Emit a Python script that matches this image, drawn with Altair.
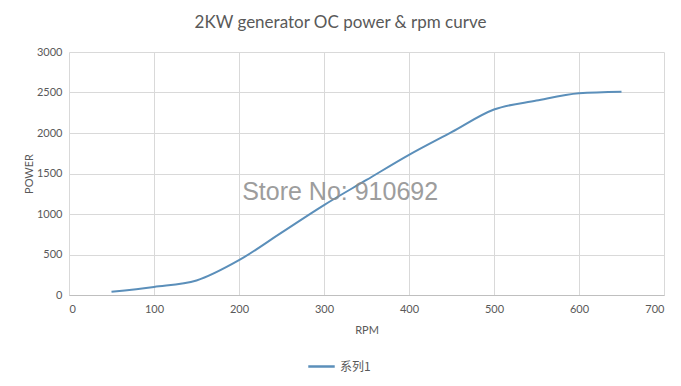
import altair as alt
import pandas as pd

rpm = [50, 100, 150, 200, 250, 300, 350, 400, 450, 500, 550, 600, 650]
power = [40, 100, 180, 430, 770, 1110, 1420, 1730, 2010, 2290, 2400, 2490, 2510]
series = ["系列1"] * len(rpm)

title_text = "2KW generator OC power & rpm curve"
watermark = ["Store No: 910692"]
wm_x = [319]
wm_y = [1270]

df = pd.DataFrame({"RPM": rpm, "POWER": power, "series": series})
wm = pd.DataFrame({"t": watermark, "x": wm_x, "y": wm_y})

grey = "#595959"
font = "Lato"

x_scale = alt.Scale(domain=[0, 700], nice=False)
y_scale = alt.Scale(domain=[0, 3000], nice=False)

line = alt.Chart(df).mark_line(interpolate="monotone", strokeWidth=2).encode(
    x=alt.X("RPM:Q", scale=x_scale,
            axis=alt.Axis(title="RPM", values=[0, 100, 200, 300, 400, 500, 600, 700],
                          format="d",
                          grid=True, gridColor="#d9d9d9", domainColor="#bfbfbf",
                          ticks=False, labelPadding=8, labelFontSize=11, labelColor=grey,
                          labelFont=font, titleFont=font, titleFontSize=11,
                          titleFontWeight="normal", titleColor=grey, titlePadding=10)),
    y=alt.Y("POWER:Q", scale=y_scale,
            axis=alt.Axis(title="POWER", values=[0, 500, 1000, 1500, 2000, 2500, 3000],
                          format="d",
                          grid=True, gridColor="#d9d9d9", domain=False,
                          ticks=False, labelPadding=7, labelFontSize=11, labelColor=grey,
                          labelFont=font, titleFont=font, titleFontSize=11,
                          titleFontWeight="normal", titleColor=grey, titlePadding=2)),
    color=alt.Color("series:N", scale=alt.Scale(range=["#5b8fba"]),
                    legend=alt.Legend(title=None, orient="none", legendX=238, legendY=300,
                                      symbolType="stroke", symbolSize=700,
                                      symbolStrokeWidth=2.5, labelFontSize=12,
                                      labelColor=grey, labelFont="Noto Sans CJK SC")),
)

text = alt.Chart(wm).mark_text(fontSize=25, color="#8c8c8c", font="Liberation Sans",
                               opacity=0.85).encode(
    x=alt.X("x:Q", scale=x_scale),
    y=alt.Y("y:Q", scale=y_scale),
    text="t:N",
)

chart = alt.layer(line, text).properties(
    width=595, height=243,
    autosize=alt.AutoSizeParams(type="none"),
    padding={"left": 69, "top": 52, "right": 17, "bottom": 91},
    title=alt.TitleParams(title_text, font=font, fontSize=17, fontWeight="normal",
                          color=grey, anchor="middle", offset=14, dx=-26),
    background="white",
).configure_view(stroke=None)

chart.save("out.html", embed_options={"renderer": "svg", "actions": False})
